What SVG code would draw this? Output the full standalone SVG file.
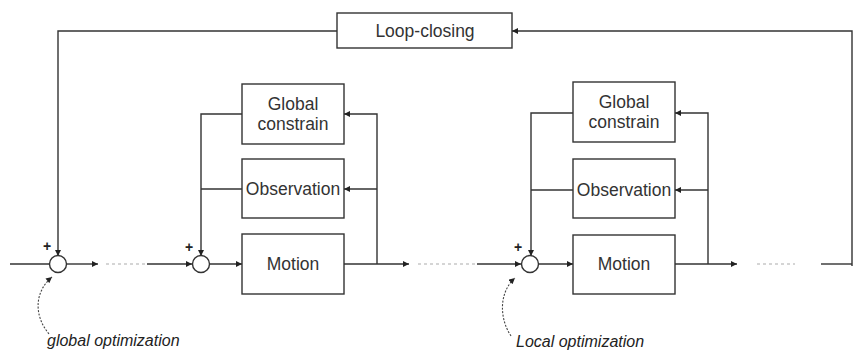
<svg xmlns="http://www.w3.org/2000/svg" width="860" height="350" viewBox="0 0 860 350">
<style>
.box{fill:#fff;stroke:#333;stroke-width:1.4}
.lbl{font-family:"Liberation Sans",Arial,sans-serif;font-size:17.5px;fill:#333;text-anchor:middle}
.note{font-family:"Liberation Sans",Arial,sans-serif;font-size:16px;font-style:italic;fill:#222}
.plus{font-family:"Liberation Sans",Arial,sans-serif;font-size:14px;font-weight:bold;fill:#222;text-anchor:middle}
.ln{fill:none;stroke:#333;stroke-width:1.4}
.dot{fill:none;stroke:#c8c8c8;stroke-width:1.3;stroke-dasharray:3 3}
.lead{fill:none;stroke:#444;stroke-width:1.1;stroke-dasharray:2 1.5}
.sum{fill:#fff;stroke:#333;stroke-width:1.4}
</style>
<defs>
<marker id="arr" viewBox="0 0 10 10" refX="10" refY="5" markerWidth="7" markerHeight="6" markerUnits="userSpaceOnUse" orient="auto">
<path d="M0,0 L10,5 L0,10 z" fill="#222"/>
</marker>
</defs>
<rect width="860" height="350" fill="#fff"/>
<g id="connectors">
<path class="ln" d="M10,264 H49"/>
<path class="ln" d="M66,264 H98" marker-end="url(#arr)"/>
<path class="dot" d="M106,264 H146"/>
<path class="ln" d="M147,264 H192" marker-end="url(#arr)"/>
<path class="ln" d="M209,264 H242" marker-end="url(#arr)"/>
<path class="ln" d="M344,264 H409" marker-end="url(#arr)"/>
<path class="dot" d="M418,264 H476"/>
<path class="ln" d="M477,264 H521" marker-end="url(#arr)"/>
<path class="ln" d="M538,264 H573" marker-end="url(#arr)"/>
<path class="ln" d="M675,264 H737" marker-end="url(#arr)"/>
<path class="dot" d="M757,264 H795"/>
<path class="ln" d="M821,264 H852"/>
<path class="ln" d="M852,266 V31 H512" marker-end="url(#arr)"/>
<path class="ln" d="M337,31 H58 V256" marker-end="url(#arr)"/>
<path class="ln" d="M377,264 V114 H344" marker-end="url(#arr)"/>
<path class="ln" d="M377,189 H344" marker-end="url(#arr)"/>
<path class="ln" d="M242,114 H201 V256" marker-end="url(#arr)"/>
<path class="ln" d="M242,189 H201"/>
<path class="ln" d="M708,264 V113 H675" marker-end="url(#arr)"/>
<path class="ln" d="M708,190 H675" marker-end="url(#arr)"/>
<path class="ln" d="M573,113 H531 V256" marker-end="url(#arr)"/>
<path class="ln" d="M573,190 H531"/>
<path class="lead" d="M49,334 C34,316 34,292 52,277" marker-end="url(#arr)"/>
<path class="lead" d="M511,336 C499,318 499,292 515,278" marker-end="url(#arr)"/>
</g>
<g id="loop-closing">
<rect class="box" x="337" y="13" width="175" height="35"/>
<text class="lbl" x="425" y="37">Loop-closing</text>
</g>
<g id="sum1">
<circle class="sum" cx="58" cy="264" r="8.5"/>
<text class="plus" x="47" y="251">+</text>
</g>
<g id="sum2">
<circle class="sum" cx="201" cy="264" r="8.5"/>
<text class="plus" x="189" y="252">+</text>
</g>
<g id="sum3">
<circle class="sum" cx="530" cy="264" r="8.5"/>
<text class="plus" x="518" y="252">+</text>
</g>
<g id="global1">
<rect class="box" x="242" y="84" width="102" height="60"/>
<text class="lbl" x="293" y="110">Global</text>
<text class="lbl" x="293" y="130">constrain</text>
</g>
<g id="observation1">
<rect class="box" x="242" y="159" width="102" height="59"/>
<text class="lbl" x="293" y="195">Observation</text>
</g>
<g id="motion1">
<rect class="box" x="242" y="234" width="102" height="60"/>
<text class="lbl" x="293" y="270">Motion</text>
</g>
<g id="global2">
<rect class="box" x="573" y="82" width="102" height="60"/>
<text class="lbl" x="624" y="108">Global</text>
<text class="lbl" x="624" y="128">constrain</text>
</g>
<g id="observation2">
<rect class="box" x="573" y="159" width="102" height="59"/>
<text class="lbl" x="624" y="196">Observation</text>
</g>
<g id="motion2">
<rect class="box" x="573" y="235" width="102" height="59"/>
<text class="lbl" x="624" y="270">Motion</text>
</g>
<g id="labels">
<text class="note" x="47" y="346">global optimization</text>
<text class="note" x="516" y="347">Local optimization</text>
</g>
</svg>
